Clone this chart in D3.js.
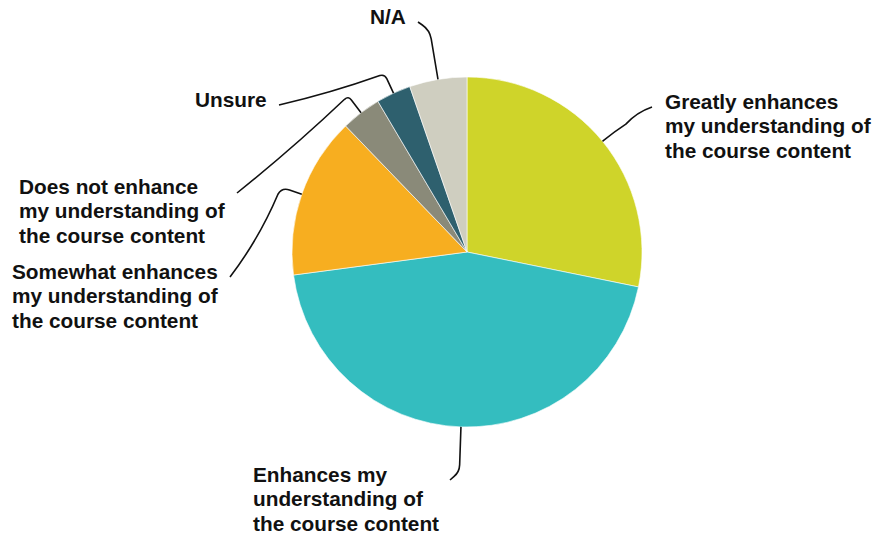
<!DOCTYPE html>
<html>
<head>
<meta charset="utf-8">
<script src="https://cdn.jsdelivr.net/npm/d3@7"></script>
<style>
  html, body { margin: 0; padding: 0; background: #ffffff; }
  svg { display: block; }
  .label { font-family: "Liberation Sans", Arial, sans-serif; font-weight: bold; font-size: 20.8px; fill: #111111; }
</style>
</head>
<body>
<svg id="chart" width="880" height="537"></svg>
<script>
// Survey responses (percent), in clockwise order from 12 o'clock
const categories = [
  "Greatly enhances my understanding of the course content",
  "Enhances my understanding of the course content",
  "Somewhat enhances my understanding of the course content",
  "Does not enhance my understanding of the course content",
  "Unsure",
  "N/A"
];
const values = [28.2, 44.7, 14.9, 3.7, 3.2, 5.3];
const colors = ["#cfd42a", "#34bdbf", "#f7ae20", "#8a8a79", "#2e606e", "#cfcec0"];

// Wrapped label lines for each category
const labelLines = [
  ["Greatly enhances", "my understanding of", "the course content"],
  ["Enhances my", "understanding of", "the course content"],
  ["Somewhat enhances", "my understanding of", "the course content"],
  ["Does not enhance", "my understanding of", "the course content"],
  ["Unsure"],
  ["N/A"]
];

// Label placement: text origin (first baseline) and where its leader line ends
const labelLayout = [
  { x: 665, y: 109, endX: 652, endY: 107, elbowR: 190, corner: 14, bend: -4 },
  { x: 253, y: 482, endX: 450, endY: 480, elbowR: 220, corner: 7,  bend: 0 },
  { x: 12,  y: 279, endX: 230, endY: 277, elbowR: 196, corner: 8,  bend: -6 },
  { x: 19,  y: 194, endX: 237, endY: 193, elbowR: 196, corner: 5,  bend: -3 },
  { x: 195, y: 107, endX: 279, endY: 105, elbowR: 196, corner: 5,  bend: -3 },
  { x: 370, y: 24,  endX: 418, endY: 22,  elbowR: 225, corner: 9,  bend: 0 }
];
const lineHeight = 24.3;

const svg = d3.select("#chart");
const cx = 467, cy = 252, radius = 175;

const data = categories.map((c, i) => ({ category: c, value: values[i], i }));

const pie = d3.pie().value(d => d.value).sort(null);
const arcs = pie(data);
const arc = d3.arc().innerRadius(0).outerRadius(radius);

const g = svg.append("g").attr("transform", `translate(${cx},${cy})`);

g.selectAll("path.slice")
  .data(arcs)
  .join("path")
  .attr("class", "slice")
  .attr("d", arc)
  .attr("fill", d => colors[d.data.i])
  .attr("stroke", "#ffffff")
  .attr("stroke-width", 0.6);

// Leader lines: radial segment from the rim, rounded elbow, then a gently bowed arm to the label
function polar(r, a) { return [r * Math.sin(a), -r * Math.cos(a)]; }

g.selectAll("path.leader")
  .data(arcs)
  .join("path")
  .attr("class", "leader")
  .attr("fill", "none")
  .attr("stroke", "#111111")
  .attr("stroke-width", 1.6)
  .attr("d", d => {
    const lay = labelLayout[d.data.i];
    const mid = (d.startAngle + d.endAngle) / 2;
    const p0 = polar(radius, mid);
    const p1 = polar(lay.elbowR, mid);
    const p2 = [lay.endX - cx, lay.endY - cy];
    const c = lay.corner;
    const d01 = Math.hypot(p1[0] - p0[0], p1[1] - p0[1]);
    const d12 = Math.hypot(p2[0] - p1[0], p2[1] - p1[1]);
    const a = [p1[0] - (p1[0] - p0[0]) * c / d01, p1[1] - (p1[1] - p0[1]) * c / d01];
    const b = [p1[0] + (p2[0] - p1[0]) * c / d12, p1[1] + (p2[1] - p1[1]) * c / d12];
    // control point for the outer arm, offset perpendicular to it
    const ux = (p2[0] - b[0]), uy = (p2[1] - b[1]);
    const len = Math.hypot(ux, uy) || 1;
    const ctrl = [(b[0] + p2[0]) / 2 + (uy / len) * lay.bend * -1, (b[1] + p2[1]) / 2 + (-ux / len) * lay.bend * -1];
    const path = d3.path();
    path.moveTo(p0[0], p0[1]);
    path.lineTo(a[0], a[1]);
    path.quadraticCurveTo(p1[0], p1[1], b[0], b[1]);
    path.quadraticCurveTo(ctrl[0], ctrl[1], p2[0], p2[1]);
    return path.toString();
  });

// Category labels
const labels = svg.selectAll("text.label")
  .data(arcs)
  .join("text")
  .attr("class", "label")
  .attr("x", d => labelLayout[d.data.i].x)
  .attr("y", d => labelLayout[d.data.i].y);

labels.selectAll("tspan")
  .data(d => labelLines[d.data.i].map((t, k) => ({ t, k, x: labelLayout[d.data.i].x })))
  .join("tspan")
  .attr("x", d => d.x)
  .attr("dy", d => d.k === 0 ? 0 : lineHeight)
  .text(d => d.t);
</script>
</body>
</html>
